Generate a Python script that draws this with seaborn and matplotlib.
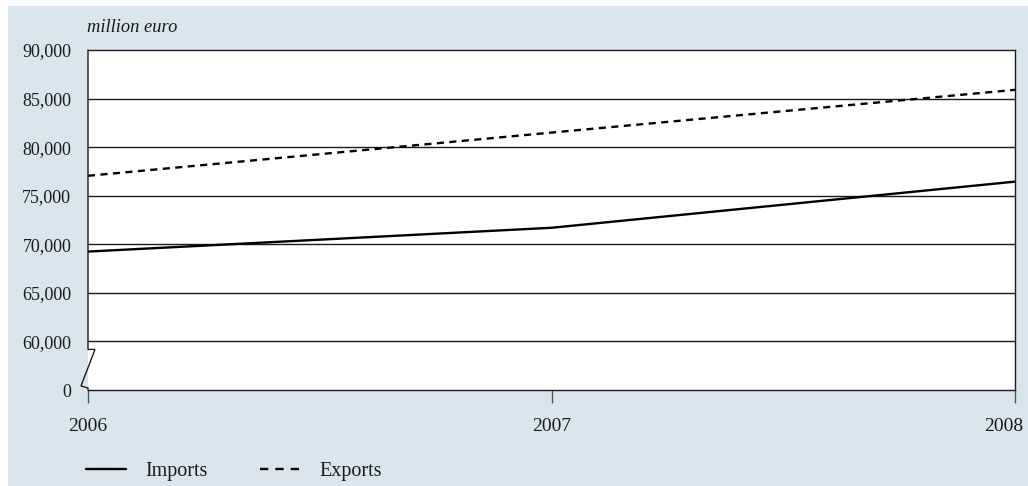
import matplotlib
matplotlib.use("Agg")
import matplotlib.pyplot as plt
from matplotlib.patches import Rectangle
from matplotlib.transforms import ScaledTranslation
import pandas as pd
import seaborn as sns

# Trade values, million euro
years = [2006, 2007, 2008]
imports = [69250, 71700, 76450]
exports = [77050, 81500, 85900]
series_names = ["Imports", "Exports"]

# Broken value axis: the bottom gridline stands for zero
y_tick_values = [55000, 60000, 65000, 70000, 75000, 80000, 85000, 90000]
y_tick_labels = ["0", "60,000", "65,000", "70,000", "75,000", "80,000", "85,000", "90,000"]
x_tick_labels = ["2006", "2007", "2008"]

df = pd.DataFrame({
    "year": years * 2,
    "value": imports + exports,
    "series": [series_names[0]] * len(years) + [series_names[1]] * len(years),
})

sns.set_theme(style="white")
plt.rcParams["font.family"] = ["Liberation Serif", "DejaVu Serif"]

W, H = 1028, 486
fig = plt.figure(figsize=(W / 100, H / 100), dpi=100, facecolor="white")

# light blue panel behind the chart
fig.patches.append(Rectangle((8 / W, 0), 1 - 8 / W, 1 - 6 / H, transform=fig.transFigure,
                             facecolor="#d9e6ee", edgecolor="none", zorder=-10))

ax = fig.add_axes([88 / W, 1 - 390 / H, (1015 - 88) / W, (390 - 50) / H])
ax.set_facecolor("white")

sns.lineplot(data=df, x="year", y="value", style="series", style_order=series_names,
             dashes={"Imports": "", "Exports": (3.0, 2.3)}, color="black",
             linewidth=1.7, ax=ax, legend=False, zorder=5)

ax.set_xlim(years[0], years[-1])
ax.set_ylim(y_tick_values[0], y_tick_values[-1])
ax.set_xticks(years)
ax.set_xticklabels(x_tick_labels)
ax.set_yticks(y_tick_values)
ax.set_yticklabels(y_tick_labels)
ax.set_xlabel("")
ax.set_ylabel("")

for v in y_tick_values[1:-1]:
    ax.axhline(v, color="#1a1a1a", linewidth=1.0, zorder=1)

ax.tick_params(axis="y", length=0, pad=12, labelsize=13, labelcolor="#1a1a1a")
ax.tick_params(axis="x", direction="out", length=9, width=1.0, color="#555555",
               pad=11, labelsize=14, labelcolor="#1a1a1a", bottom=True)

# keep the last year label inside the panel
last = ax.get_xticklabels()[-1]
last.set_transform(last.get_transform() + ScaledTranslation(-0.11, 0, fig.dpi_scale_trans))

for side in ["top", "right", "bottom"]:
    ax.spines[side].set_visible(True)
    ax.spines[side].set_color("#1a1a1a")
    ax.spines[side].set_linewidth(1.0)
ax.spines["left"].set_visible(False)

# left axis line with a zigzag break between 0 and 60,000
tr = ax.get_yaxis_transform()
dx = 7 / (1015 - 88)
per_px = 5000 / 48.6
brk_y = [90000, 60000 - 8 * per_px, 60000 - 8 * per_px, 55000 + 4 * per_px,
         55000 + 2 * per_px, 55000]
brk_x = [0, 0, dx, -dx, 0, 0]
ax.plot(brk_x, brk_y, transform=tr, color="#1a1a1a", linewidth=1.0,
        clip_on=False, zorder=6, solid_joinstyle="miter")

fig.text(87 / W, 1 - 27 / H, "million euro", style="italic", fontsize=13.3,
         color="#1a1a1a", ha="left", va="center")

# legend below the chart
handles = [plt.Line2D([], [], color="black", linewidth=1.7, linestyle="-"),
           plt.Line2D([], [], color="black", linewidth=1.7, linestyle=(0, (3.5, 3.0)))]
fig.legend(handles, series_names, loc="center left",
           bbox_to_anchor=(86 / W, 1 - 471 / H), ncol=2, frameon=False,
           fontsize=14.5, handlelength=2.0, handletextpad=0.95, columnspacing=2.6,
           borderpad=0, borderaxespad=0, labelcolor="#1a1a1a")

fig.savefig("out.png", dpi=100, facecolor="white")
